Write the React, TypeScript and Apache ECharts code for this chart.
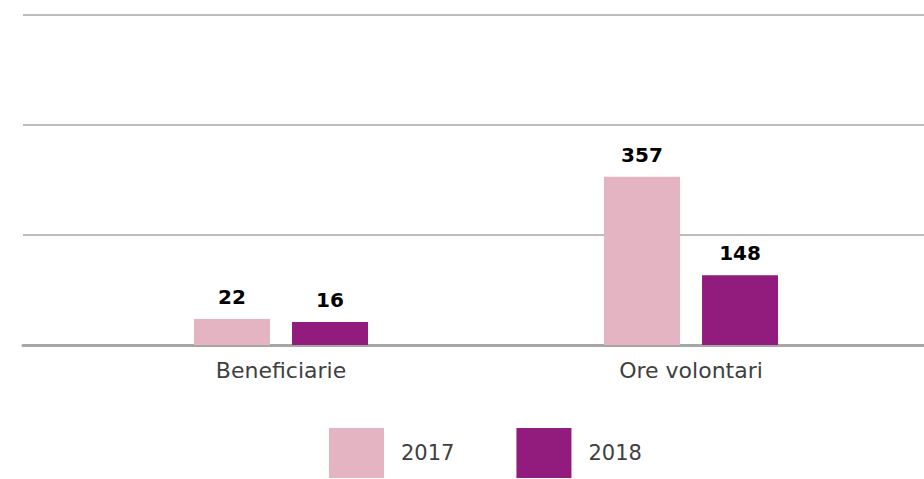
import React, { useEffect, useRef } from "react";
import * as echarts from "echarts";

const categories = ["Beneficiarie", "Ore volontari"];
const values2017 = [22, 357];
const values2018 = [16, 148];
const seriesNames = ["2017", "2018"];

const PINK = "#E4B4C2";
const PURPLE = "#911C7D";
const FONT = "DejaVu Sans";

export default function App() {
  const ref = useRef<HTMLDivElement>(null);
  useEffect(() => {
    if (!ref.current) return;
    const chart = echarts.init(ref.current, null, { renderer: "svg" });
    const labelCfg = {
      show: true,
      position: "top",
      distance: 12,
      color: "#000",
      fontFamily: FONT,
      fontWeight: "bold",
      fontSize: 20,
    };
    chart.setOption({
      animation: false,
      backgroundColor: "#fff",
      grid: [
        { left: 23, right: 0, top: 15, height: 330 },
        { left: 76, width: 820, top: 15, height: 330 },
      ],
      xAxis: [
        {
          type: "category",
          gridIndex: 0,
          data: categories,
          axisLine: { show: true, lineStyle: { color: "#A6A6A6", width: 3 } },
          axisTick: { show: false },
          axisLabel: { show: false },
        },
        {
          type: "category",
          gridIndex: 1,
          data: categories,
          axisLine: { show: false },
          axisTick: { show: false },
          axisLabel: {
            show: true,
            margin: 14,
            color: "#404040",
            fontFamily: FONT,
            fontSize: 22,
          },
        },
      ],
      yAxis: [
        {
          type: "value",
          gridIndex: 0,
          min: 0,
          max: 700,
          interval: 700 / 3,
          axisLine: { show: false },
          axisTick: { show: false },
          axisLabel: { show: false },
          splitLine: { show: true, lineStyle: { color: "#A6A6A6", width: 1.5 } },
        },
        {
          type: "value",
          gridIndex: 1,
          min: 0,
          max: 700,
          interval: 700 / 3,
          show: false,
          splitLine: { show: false },
        },
      ],
      legend: {
        left: 329,
        top: 428,
        padding: 0,
        itemWidth: 55,
        itemHeight: 50,
        itemGap: 62,
        icon: "rect",
        textStyle: {
          color: "#404040",
          fontFamily: FONT,
          fontSize: 21,
          lineHeight: 21,
          verticalAlign: "top",
          padding: [-4, 0, 0, 12],
        },
        data: seriesNames,
      },
      series: [
        {
          name: seriesNames[0],
          type: "bar",
          xAxisIndex: 1,
          yAxisIndex: 1,
          data: values2017,
          barWidth: 76,
          barGap: "29%",
          barMinHeight: 26,
          itemStyle: { color: PINK },
          label: labelCfg,
        },
        {
          name: seriesNames[1],
          type: "bar",
          xAxisIndex: 1,
          yAxisIndex: 1,
          data: values2018,
          barWidth: 76,
          barGap: "29%",
          barMinHeight: 23,
          itemStyle: { color: PURPLE },
          label: labelCfg,
        },
      ],
    });
    return () => chart.dispose();
  }, []);
  return (
    <div
      ref={ref}
      style={{ position: "fixed", left: 0, top: 0, width: 924, height: 479 }}
    />
  );
}
